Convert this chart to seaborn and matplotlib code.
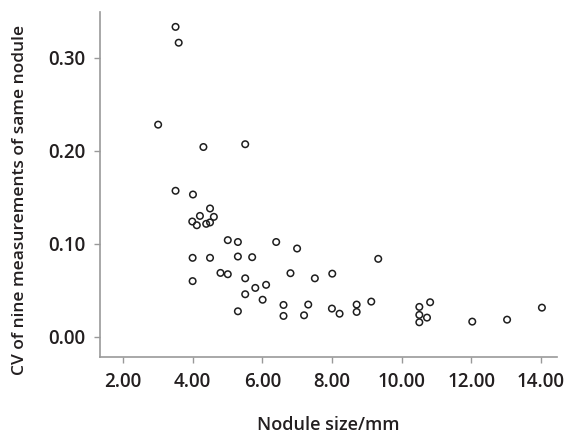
import matplotlib
matplotlib.use("Agg")
import matplotlib.pyplot as plt
import seaborn as sns
import pandas as pd

nodule_size = [3.51, 3.60, 3.01, 4.31, 5.51, 3.51, 4.01,
               4.50, 4.21, 3.99, 4.12, 4.61, 4.39, 4.50,
               5.01, 5.30, 6.40, 7.00,
               4.00, 4.50, 5.30, 5.71,
               4.80, 5.01, 4.00, 5.51, 6.81, 7.51, 8.01,
               5.80, 6.11, 5.51, 6.01, 6.61, 7.32, 8.00, 8.22,
               5.30, 6.61, 7.20,
               9.33, 8.71, 8.71, 9.13, 10.51, 10.82, 10.51, 10.73, 10.51,
               12.03, 13.03, 14.03]
cv_values = [0.333, 0.316, 0.228, 0.204, 0.207, 0.157, 0.153,
             0.138, 0.130, 0.124, 0.120, 0.129, 0.1215, 0.123,
             0.104, 0.102, 0.102, 0.095,
             0.085, 0.085, 0.0864, 0.0857,
             0.0688, 0.0674, 0.060, 0.063, 0.0685, 0.063, 0.068,
             0.0527, 0.056, 0.0459, 0.040, 0.0344, 0.0348, 0.0305, 0.025,
             0.0276, 0.0226, 0.0233,
             0.0839, 0.0348, 0.0269, 0.038, 0.0323, 0.0373, 0.0237, 0.0208, 0.0158,
             0.0165, 0.0186, 0.0315]
x_ticks = [2, 4, 6, 8, 10, 12, 14]
y_ticks = [0.0, 0.1, 0.2, 0.3]

df = pd.DataFrame({"size": nodule_size, "cv": cv_values})

sns.set_style("white")
plt.rcParams["font.family"] = ["Open Sans", "DejaVu Sans"]

fig = plt.figure(figsize=(5.7, 4.34), dpi=100)
ax = fig.add_axes([0.1754, 0.1774, 0.977 - 0.1754, 0.9724 - 0.1774])

sns.scatterplot(data=df, x="size", y="cv", ax=ax, marker="o", s=22,
                facecolor="none", edgecolor="#1e1e1e", linewidth=1.1)

ax.set_xlim(1.34, 14.46)
ax.set_ylim(-0.0215, 0.349)
ax.set_xticks(x_ticks)
ax.set_xticklabels([f"{v:.2f}" for v in x_ticks])
ax.set_yticks(y_ticks)
ax.set_yticklabels([f"{v:.2f}" for v in y_ticks])

for side in ["top", "right"]:
    ax.spines[side].set_visible(False)
for side in ["left", "bottom"]:
    ax.spines[side].set_color("#999999")
    ax.spines[side].set_linewidth(1.2)

ax.tick_params(axis="both", which="major", direction="out", length=4.5, width=1,
               color="#999999", labelsize=13.5, labelcolor="#231f20", pad=6,
               left=True, bottom=True)
for lbl in ax.get_xticklabels() + ax.get_yticklabels():
    lbl.set_fontweight("semibold")

ax.set_xlabel("Nodule size/mm", fontsize=13, color="#231f20", fontweight="semibold")
ax.set_ylabel("CV of nine measurements of same nodule", fontsize=12.5,
              color="#231f20", fontweight="semibold")
ax.xaxis.set_label_coords(0.5, -0.172)
ax.yaxis.set_label_coords(-0.158, 0.455)

fig.savefig("out.png", dpi=100)
